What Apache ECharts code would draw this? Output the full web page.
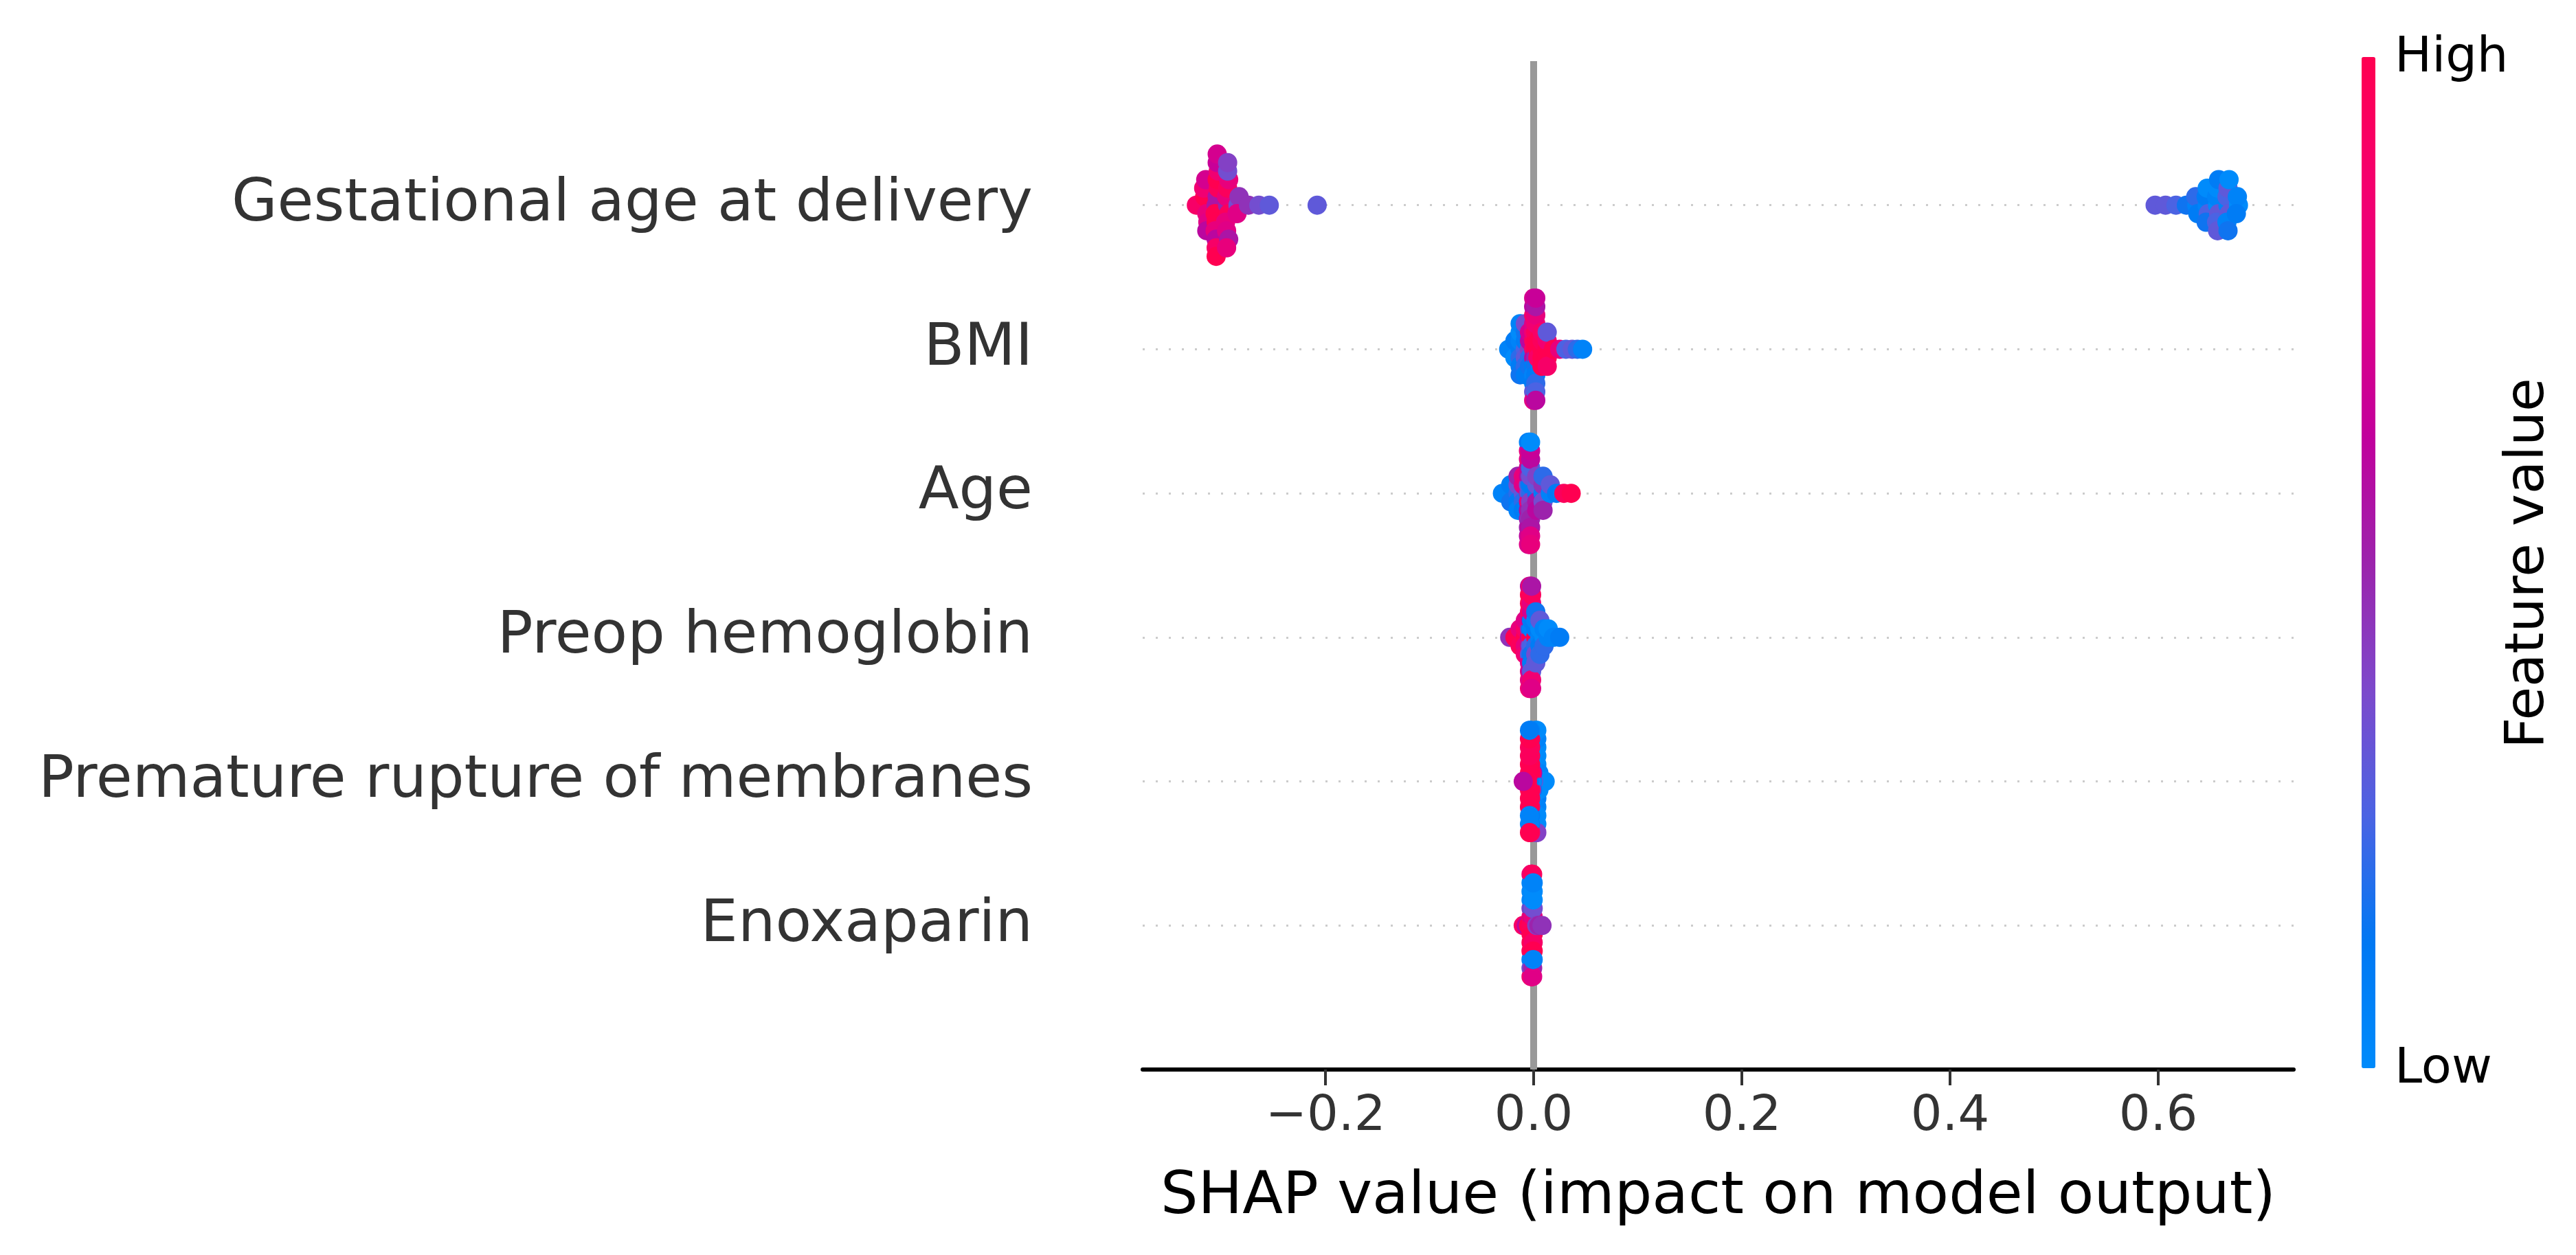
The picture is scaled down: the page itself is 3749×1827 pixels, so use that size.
<!DOCTYPE html>
<html>
<head>
<meta charset="utf-8">
<script src="https://cdn.jsdelivr.net/npm/echarts@6/dist/echarts.min.js"></script>
<style>
html,body{margin:0;padding:0;background:#ffffff;}
#chart{width:3749px;height:1827px;}
</style>
</head>
<body>
<div id="chart"></div>
<script>
// ---------------- data ----------------
// features listed top to bottom (top row = highest position)
const features = ['Gestational age at delivery', 'BMI', 'Age', 'Preop hemoglobin', 'Premature rupture of membranes', 'Enoxaparin'];
const xTicks = [-0.2, 0.0, 0.2, 0.4, 0.6];
const colorLabels = ['Low', 'High'];

const gestShap = [
  -0.324,
  -0.315, -0.316, -0.314, -0.317, -0.313, -0.315, -0.314,
  -0.305, -0.304, -0.306, -0.303, -0.305, -0.304, -0.306, -0.303, -0.305, -0.304, -0.305, -0.304, -0.305,
  -0.294, -0.295, -0.293, -0.294, -0.296, -0.293, -0.295, -0.294, -0.293, -0.294, -0.295,
  -0.284, -0.283, -0.285,
  -0.274, -0.264, -0.254, -0.208,
  0.597, 0.607, 0.617, 0.627,
  0.637, 0.636, 0.638,
  0.647, 0.646, 0.648, 0.647, 0.646,
  0.657, 0.656, 0.658, 0.657, 0.656, 0.658, 0.657,
  0.667, 0.666, 0.668, 0.667, 0.666, 0.668, 0.667,
  0.677, 0.676, 0.675
];
const gestValue = [
  0.9,
  0.9, 1.0, 0.8, 0.85, 0.75, 0.7, 0.6,
  0.55, 0.55, 1.0, 0.95, 1.0, 1.0, 0.8, 0.85, 0.6, 0.65, 0.9, 0.7, 1.0,
  0.5, 0.8, 0.95, 0.95, 0.8, 0.8, 0.75, 0.35, 0.55, 0.4, 0.8,
  0.35, 0.45, 0.75,
  0.45, 0.35, 0.3, 0.3,
  0.3, 0.3, 0.25, 0.15,
  0.05, 0.2, 0.1,
  0.05, 0.1, 0.25, 0.0, 0.15,
  0.0, 0.05, 0.3, 0.0, 0.25, 0.1, 0.3,
  0.05, 0.25, 0.3, 0.3, 0.05, 0.0, 0.15,
  0.0, 0.05, 0.1
];

const bmiShap = [
  -0.024,
  -0.018, -0.018, -0.018,
  -0.013, -0.013, -0.013, -0.013, -0.013, -0.013, -0.013,
  -0.008, -0.008, -0.008, -0.008, -0.008, -0.008, -0.008,
  -0.004, -0.004, -0.004, -0.004, -0.004,
  0.000, 0.000, 0.000, 0.000, 0.000, 0.000, 0.000, 0.000, 0.000, 0.000, 0.000, 0.000, 0.000,
  0.002, 0.002, 0.002, 0.002, 0.002, 0.002, 0.002, 0.002, 0.002, 0.002, 0.002, 0.002, 0.002,
  0.004, 0.004, 0.004,
  0.008, 0.008, 0.008, 0.008, 0.008,
  0.013, 0.013, 0.013, 0.013, 0.013,
  0.019, 0.025, 0.031, 0.037, 0.042, 0.047
];
const bmiValue = [
  0.05,
  0.05, 0.1, 0.0,
  0.1, 0.05, 0.2, 0.0, 0.1, 0.05, 0.15,
  0.25, 0.1, 0.3, 0.15, 0.2, 0.35, 0.1,
  0.4, 0.6, 0.2, 0.7, 0.15,
  0.9, 0.95, 0.6, 0.85, 0.1, 0.75, 0.05, 0.9, 0.1, 0.6, 0.3, 0.7, 0.75,
  1.0, 1.0, 0.5, 0.95, 0.15, 0.85, 0.1, 0.8, 0.2, 0.55, 0.25, 0.65, 0.6,
  1.0, 1.0, 0.9,
  1.0, 0.95, 1.0, 0.9, 1.0,
  1.0, 0.85, 1.0, 0.3, 0.9,
  1.0, 0.8, 0.25, 0.3, 0.2, 0.05
];

const ageShap = [
  -0.030,
  -0.022, -0.022, -0.022,
  -0.015, -0.015, -0.015, -0.015, -0.015,
  -0.010, -0.010, -0.010, -0.010, -0.010,
  -0.005, -0.005, -0.005, -0.005, -0.005, -0.005, -0.005, -0.005, -0.005, -0.005, -0.005, -0.005, -0.005,
  -0.004, -0.004, -0.004, -0.004, -0.004, -0.004, -0.004, -0.004, -0.004, -0.004, -0.004, -0.004, -0.004,
  -0.003, -0.003, -0.003, -0.003, -0.003, -0.003, -0.003, -0.003, -0.003, -0.003, -0.003, -0.003, -0.003,
  0.003, 0.003, 0.003, 0.003, 0.003,
  0.009, 0.009, 0.009, 0.009, 0.009,
  0.016, 0.016,
  0.022, 0.029, 0.036
];
const ageValue = [
  0.05,
  0.05, 0.1, 0.15,
  0.2, 0.35, 0.1, 0.5, 0.05,
  0.3, 0.75, 0.2, 0.8, 0.1,
  0.45, 0.35, 0.8, 0.65, 0.6, 0.7, 0.55, 0.75, 0.5, 0.8, 0.6, 0.05, 0.75,
  0.3, 0.2, 0.85, 0.5, 0.55, 0.6, 0.45, 0.85, 0.6, 0.7, 0.7, 0.1, 0.7,
  0.2, 0.1, 0.4, 0.35, 0.45, 0.25, 0.5, 0.6, 0.55, 0.65, 0.75, 0.0, 0.8,
  0.15, 0.3, 0.55, 0.4, 0.6,
  0.1, 0.45, 0.35, 0.2, 0.5,
  0.05, 0.3,
  0.1, 0.95, 1.0
];

const preopShap = [
  -0.023, -0.018,
  -0.013, -0.013, -0.013,
  -0.008, -0.008, -0.008, -0.008, -0.008,
  -0.004, -0.004, -0.004, -0.004, -0.004, -0.004, -0.004, -0.004, -0.004, -0.004, -0.004, -0.004, -0.004,
  -0.003, -0.003, -0.003, -0.003, -0.003, -0.003, -0.003, -0.003, -0.003, -0.003, -0.003, -0.003, -0.003,
  -0.002, -0.002, -0.002, -0.002, -0.002, -0.002, -0.002, -0.002, -0.002, -0.002, -0.002, -0.002, -0.002,
  0.002, 0.002, 0.002, 0.002, 0.002, 0.002, 0.002,
  0.006, 0.006, 0.006, 0.006, 0.006,
  0.010, 0.010, 0.010,
  0.014, 0.014,
  0.019, 0.025
];
const preopValue = [
  0.45, 1.0,
  1.0, 0.8, 0.95,
  1.0, 0.9, 0.8, 0.75, 0.85,
  0.6, 0.45, 0.55, 0.8, 0.3, 0.85, 0.7, 1.0, 0.8, 1.0, 0.8, 0.6, 0.85,
  0.9, 0.15, 0.35, 0.6, 0.2, 0.95, 0.75, 0.9, 0.6, 1.0, 0.75, 0.9, 0.8,
  1.0, 0.05, 0.25, 0.1, 0.15, 0.7, 0.1, 0.8, 0.3, 0.95, 0.85, 0.55, 0.75,
  1.0, 0.1, 0.2, 0.05, 0.35, 0.15, 0.3,
  0.05, 0.0, 0.1, 0.3, 0.2,
  0.0, 0.05, 0.2,
  0.05, 0.0,
  0.05, 0.1
];

const promShap = [
  0.002, 0.002, 0.002, 0.002, 0.002, 0.002, 0.002, 0.002, 0.002, 0.002, 0.002, 0.002, 0.002,
  0.003, 0.003, 0.003, 0.003, 0.003, 0.003, 0.003, 0.003, 0.003, 0.003, 0.003, 0.003, 0.003,
  0.005, 0.005, 0.005,
  0.006, 0.008, 0.011, 0.000,
  -0.001, -0.001, -0.001,
  -0.002, -0.002, -0.002,
  -0.003, -0.003, -0.003, -0.003, -0.003, -0.003, -0.003, -0.003, -0.003, -0.003, -0.003, -0.003, -0.003,
  -0.004, -0.004, -0.004, -0.004, -0.004, -0.004, -0.004, -0.004, -0.004, -0.004, -0.004, -0.004, -0.004,
  -0.006, -0.007, -0.010
];
const promValue = [
  0.0, 0.05, 0.0, 0.1, 0.0, 0.05, 0.0, 0.0, 0.05, 0.1, 0.0, 0.05, 0.35,
  0.05, 0.0, 0.05, 0.0, 0.1, 0.0, 0.05, 0.0, 0.0, 0.05, 0.0, 0.0, 0.4,
  0.0, 0.05, 0.0,
  0.05, 0.0, 0.0, 0.3,
  0.05, 0.6, 0.1,
  0.0, 0.9, 0.45,
  0.0, 1.0, 1.0, 1.0, 1.0, 1.0, 0.9, 1.0, 0.1, 1.0, 0.1, 0.05, 0.95,
  0.1, 1.0, 1.0, 1.0, 1.0, 0.95, 1.0, 0.95, 0.05, 1.0, 0.05, 0.1, 1.0,
  0.95, 1.0, 0.6
];

const enoxShap = [
  -0.010, -0.007, -0.005,
  -0.0025, -0.0025, -0.0025, -0.0025, -0.0025, -0.0025, -0.0025, -0.0025, -0.0025, -0.0025, -0.0025, -0.0025, -0.0025,
  -0.002, -0.002, -0.002, -0.002, -0.002, -0.002, -0.002, -0.002, -0.002, -0.002, -0.002, -0.002, -0.002,
  -0.0015, -0.0015, -0.0015, -0.0015, -0.0015, -0.0015, -0.0015, -0.0015, -0.0015, -0.0015, -0.0015, -0.0015, -0.0015,
  -0.001, -0.001, -0.001, -0.001, -0.001, -0.001, -0.001, -0.001, -0.001, -0.001, -0.001, -0.001, -0.001,
  -0.0005, -0.0005, -0.0005, -0.0005, -0.0005, -0.0005, -0.0005, -0.0005, -0.0005, -0.0005,
  0.003, 0.005, 0.008
];
const enoxValue = [
  0.9, 0.6, 1.0,
  0.95, 0.9, 1.0, 0.4, 1.0, 0.0, 1.0, 0.05, 0.05, 0.0, 0.35, 0.85, 0.8,
  1.0, 0.7, 1.0, 0.3, 0.95, 0.05, 1.0, 0.0, 0.1, 0.05, 0.4, 0.9, 0.85,
  0.9, 1.0, 0.95, 0.5, 1.0, 0.0, 0.9, 0.0, 0.0, 0.1, 0.3, 0.8, 0.9,
  1.0, 0.6, 1.0, 0.2, 1.0, 0.1, 1.0, 0.05, 0.1, 0.0, 0.5, 0.95, 0.75,
  0.95, 0.8, 1.0, 0.35, 0.9, 0.0, 1.0, 0.0, 0.05, 0.05,
  0.4, 0.5, 0.45
];

// shap "red_blue" colormap (blue = low, red = high)
const redBlue = ['#008bfb', '#0078f3', '#4b63e3', '#7d49cb', '#9c23ac', '#c2009c', '#e00086', '#f5006d', '#ff0051'];

// ---------------- beeswarm layout (shap summary_plot algorithm) ----------------
const ROW_HEIGHT = 0.46;
function beeswarm(shaps) {
  const N = shaps.length, nbins = 100;
  const mn = Math.min(...shaps), mx = Math.max(...shaps);
  const quant = shaps.map(s => Math.round(nbins * (s - mn) / (mx - mn + 1e-8)));
  const inds = shaps.map((_, i) => i).sort((a, b) => (quant[a] - quant[b]) || (a - b));
  const ys = new Array(N).fill(0);
  let layer = 0, last = -1;
  for (const i of inds) {
    if (quant[i] !== last) layer = 0;
    ys[i] = Math.ceil(layer / 2) * ((layer % 2) * 2 - 1);
    layer += 1;
    last = quant[i];
  }
  const m = Math.max(...ys.map(y => y + 1));
  return ys.map(y => y * 0.9 * (ROW_HEIGHT / m));
}

const rows = [
  [gestShap, gestValue], [bmiShap, bmiValue], [ageShap, ageValue],
  [preopShap, preopValue], [promShap, promValue], [enoxShap, enoxValue]
];
const nRows = features.length;
const rowPos = features.map((_, i) => nRows - 1 - i);

const font = '"DejaVu Sans", "Liberation Sans", sans-serif';

const scatterSeries = rows.map(([s, v], i) => {
  const ys = beeswarm(s);
  return {
    type: 'scatter',
    name: features[i],
    symbol: 'circle',
    symbolSize: 28,
    z: 3,
    silent: true,
    emphasis: { disabled: true },
    itemStyle: { opacity: 1, borderWidth: 0 },
    data: s.map((x, j) => [x, rowPos[i] + ys[j], v[j]])
  };
});

const helper = {
  type: 'scatter',
  data: [],
  silent: true,
  z: 1,
  markLine: {
    silent: true,
    symbol: 'none',
    z: 1,
    animation: false,
    label: { show: false },
    emphasis: { disabled: true },
    data: [
      ...rowPos.map(p => ({ yAxis: p, lineStyle: { color: '#cccccc', width: 3, type: [3, 16] } })),
      { xAxis: 0, lineStyle: { color: '#999999', width: 10, type: 'solid' } }
    ]
  }
};

const fmt = v => (v < 0 ? '\u2212' : '') + Math.abs(v).toFixed(1);

const option = {
  animation: false,
  backgroundColor: '#ffffff',
  textStyle: { fontFamily: font },
  grid: { left: 1663, right: 411, top: 89, bottom: 270, containLabel: false, outerBoundsMode: 'none' },
  xAxis: {
    type: 'value',
    min: -0.3756,
    max: 0.730,
    name: 'SHAP value (impact on model output)',
    nameLocation: 'middle',
    nameGap: 144,
    nameTextStyle: { fontSize: 86, color: '#000000', fontFamily: font },
    axisLine: { show: true, onZero: false, lineStyle: { color: '#000000', width: 6 } },
    axisTick: { show: true, customValues: xTicks, length: 23, lineStyle: { color: '#333333', width: 4 } },
    axisLabel: { customValues: xTicks, formatter: fmt, fontSize: 72, color: '#333333', margin: 33, fontFamily: font },
    splitLine: { show: false }
  },
  yAxis: {
    type: 'value',
    min: -1,
    max: nRows,
    interval: 1,
    axisLine: { show: false },
    axisTick: { show: false },
    splitLine: { show: false },
    axisLabel: {
      fontSize: 86,
      color: '#333333',
      margin: 160,
      fontFamily: font,
      formatter: v => (v >= 0 && v <= nRows - 1) ? features[nRows - 1 - v] : ''
    }
  },
  visualMap: {
    type: 'continuous',
    show: true,
    min: 0,
    max: 1,
    dimension: 2,
    seriesIndex: [0, 1, 2, 3, 4, 5],
    orient: 'vertical',
    left: 3437,
    top: 83,
    itemWidth: 20,
    itemHeight: 1472,
    padding: 0,
    calculable: false,
    hoverLink: false,
    inRange: { color: redBlue }
  },
  graphic: [
    { type: 'text', x: 3485, y: 85, style: { text: colorLabels[1], font: '72px ' + font, fill: '#000000', align: 'left', verticalAlign: 'middle' } },
    { type: 'text', x: 3485, y: 1557, style: { text: colorLabels[0], font: '72px ' + font, fill: '#000000', align: 'left', verticalAlign: 'middle' } },
    { type: 'text', x: 3680, y: 820, rotation: Math.PI / 2, style: { text: 'Feature value', font: '79px ' + font, fill: '#000000', align: 'center', verticalAlign: 'middle' } }
  ],
  series: [...scatterSeries, helper]
};

const chart = echarts.init(document.getElementById('chart'), null, { renderer: 'canvas' });
chart.setOption(option);
</script>
</body>
</html>
